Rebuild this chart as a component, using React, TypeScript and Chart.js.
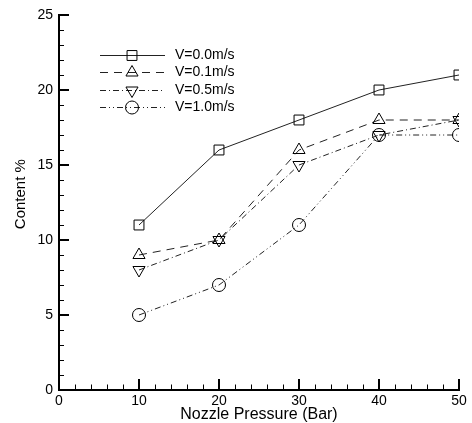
import React, { useEffect, useRef } from 'react';
import { Chart, registerables } from 'chart.js';

Chart.register(...registerables);

const pressures = [10, 20, 30, 40, 50];
const seriesLabels = ['V=0.0m/s', 'V=0.1m/s', 'V=0.5m/s', 'V=1.0m/s'];
const v00 = [11, 16, 18, 20, 21];
const v01 = [9, 10, 16, 18, 18];
const v05 = [8, 10, 15, 17, 18];
const v10 = [5, 7, 11, 17, 17];
const xTickValues = [0, 10, 20, 30, 40, 50];
const yTickValues = [0, 5, 10, 15, 20, 25];

const FONT = '"Liberation Sans", Arial, Helvetica, sans-serif';

const styles = [
  { dash: [] as number[], point: 'rect', rot: 0, radius: 7 },
  { dash: [8, 6], point: 'triangle', rot: 0, radius: 7 },
  { dash: [6, 3, 1, 3], point: 'triangle', rot: 180, radius: 7 },
  { dash: [6, 3, 1, 3, 1, 3], point: 'circle', rot: 0, radius: 6.5 },
];

const seriesValues = [v00, v01, v05, v10];

function drawMarker(ctx: CanvasRenderingContext2D, kind: string, rot: number, r: number, x: number, y: number) {
  ctx.beginPath();
  if (kind === 'rect') {
    const s = r * Math.SQRT1_2;
    ctx.rect(x - s, y - s, 2 * s, 2 * s);
  } else if (kind === 'triangle') {
    const sign = rot === 180 ? -1 : 1;
    const a = (Math.PI * 2) / 3;
    for (let i = 0; i < 3; i++) {
      const ang = -Math.PI / 2 + i * a;
      const px = x + r * Math.cos(ang);
      const py = y + sign * r * Math.sin(ang);
      if (i === 0) ctx.moveTo(px, py);
      else ctx.lineTo(px, py);
    }
    ctx.closePath();
  } else {
    ctx.arc(x, y, r, 0, Math.PI * 2);
  }
  ctx.stroke();
}

const inwardTicks = {
  id: 'inwardTicks',
  afterDraw(chart: any) {
    const { ctx, scales, chartArea } = chart;
    const x = scales.x;
    const y = scales.y;
    ctx.save();
    ctx.strokeStyle = '#000';
    for (let v = 0; v <= 50; v += 2) {
      const major = v % 10 === 0;
      const px = x.getPixelForValue(v);
      ctx.lineWidth = major ? 2 : 1;
      ctx.beginPath();
      ctx.moveTo(major ? px : Math.round(px) + 0.5, chartArea.bottom);
      ctx.lineTo(major ? px : Math.round(px) + 0.5, chartArea.bottom - (major ? 11 : 5.5));
      ctx.stroke();
    }
    for (let v = 0; v <= 25; v += 1) {
      const major = v % 5 === 0;
      const py = y.getPixelForValue(v);
      ctx.lineWidth = major ? 2 : 1;
      ctx.beginPath();
      ctx.moveTo(chartArea.left, major ? py : Math.round(py) + 0.5);
      ctx.lineTo(chartArea.left + (major ? 10 : 5), major ? py : Math.round(py) + 0.5);
      ctx.stroke();
    }
    ctx.restore();
  },
};

const customLegend = {
  id: 'customLegend',
  afterDraw(chart: any) {
    const { ctx, chartArea } = chart;
    const x0 = chartArea.left + 41;
    const x1 = chartArea.left + 106;
    const xm = chartArea.left + 73;
    const xt = chartArea.left + 116;
    ctx.save();
    chart.data.datasets.forEach((ds: any, i: number) => {
      const st = styles[i];
      const yy = Math.round(chartArea.top + 39.5 + i * 17.5) + 0.5;
      ctx.strokeStyle = '#222';
      ctx.lineWidth = 1;
      ctx.setLineDash(st.dash);
      ctx.beginPath();
      ctx.moveTo(x0, yy);
      ctx.lineTo(x1, yy);
      ctx.stroke();
      ctx.setLineDash([]);
      ctx.strokeStyle = '#000';
      drawMarker(ctx, st.point, st.rot, st.radius, xm, yy);
      ctx.fillStyle = '#000';
      ctx.font = `14px ${FONT}`;
      ctx.textBaseline = 'middle';
      ctx.textAlign = 'left';
      ctx.fillText(ds.label, xt, yy);
    });
    ctx.restore();
  },
};

export default function App() {
  const ref = useRef<HTMLCanvasElement | null>(null);

  useEffect(() => {
    if (!ref.current) return;
    const datasets = seriesLabels.map((label, i) => ({
      label,
      data: pressures.map((p, j) => ({ x: p, y: seriesValues[i][j] })),
      borderColor: '#222',
      borderWidth: 1,
      borderDash: styles[i].dash,
      pointStyle: styles[i].point,
      pointRotation: styles[i].rot,
      pointRadius: styles[i].radius,
      pointBorderColor: '#000',
      pointBorderWidth: 1,
      pointBackgroundColor: 'rgba(0,0,0,0)',
      fill: false,
      tension: 0,
    }));
    const chart = new Chart(ref.current, {
      type: 'line',
      data: { datasets },
      options: {
        animation: false,
        responsive: false,
        maintainAspectRatio: false,
        layout: { padding: { top: 15, right: 13, left: 0, bottom: 0 } },
        plugins: {
          legend: { display: false },
          tooltip: { enabled: false },
        },
        scales: {
          x: {
            type: 'linear',
            min: 0,
            max: 50,
            afterBuildTicks: (scale: any) => {
              scale.ticks = xTickValues.map((v) => ({ value: v }));
            },
            afterFit: (scale: any) => {
              scale.height = 33;
            },
            grid: { display: false, drawTicks: false },
            border: { display: true, color: '#000', width: 2 },
            ticks: {
              color: '#000',
              font: { family: FONT, size: 14 },
              padding: 3,
              maxRotation: 0,
              autoSkip: false,
            },
            title: {
              display: true,
              text: 'Nozzle Pressure (Bar)',
              color: '#000',
              font: { family: FONT, size: 16 },
              padding: { top: 0, bottom: -1 },
            },
          },
          y: {
            type: 'linear',
            min: 0,
            max: 25,
            afterBuildTicks: (scale: any) => {
              scale.ticks = yTickValues.map((v) => ({ value: v }));
            },
            afterFit: (scale: any) => {
              scale.width = 59;
            },
            grid: { display: false, drawTicks: false },
            border: { display: true, color: '#000', width: 2 },
            ticks: {
              color: '#000',
              font: { family: FONT, size: 14 },
              padding: 6,
              autoSkip: false,
            },
            title: {
              display: true,
              text: '    Content %',
              color: '#000',
              font: { family: FONT, size: 15 },
              padding: { top: 12, bottom: 0 },
            },
          },
        },
      },
      plugins: [inwardTicks, customLegend],
    });
    return () => chart.destroy();
  }, []);

  return (
    <div style={{ position: 'fixed', left: 0, top: 0, width: 472, height: 423, background: '#fff' }}>
      <canvas ref={ref} width={472} height={423} style={{ display: 'block' }} />
    </div>
  );
}
